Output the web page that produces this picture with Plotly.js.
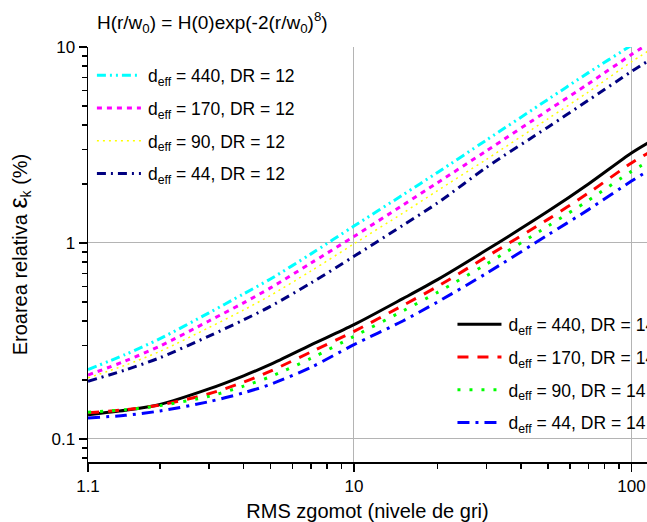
<!DOCTYPE html>
<html>
<head>
<meta charset="utf-8">
<script src="https://cdn.plot.ly/plotly-3.0.1.min.js"></script>
<style>
  html, body { margin: 0; padding: 0; background: #fff; }
  #chart { width: 647px; height: 522px; }
</style>
</head>
<body>
<div id="chart"></div>
<script>
// RMS noise levels (grey levels) at which the relative error was evaluated
const noiseRms = [1.1, 1.5, 2, 3, 4, 5, 7, 10, 15, 20, 30, 50, 70, 100, 115];

// Relative error (%) for dynamic range DR = 12
const err440dr12 = [0.226, 0.27, 0.325, 0.44, 0.55, 0.655, 0.88, 1.22, 1.76, 2.29, 3.35, 5.4, 7.4, 10.2, 11.6];
const err170dr12 = [0.212, 0.25, 0.298, 0.40, 0.495, 0.59, 0.79, 1.08, 1.56, 2.03, 2.95, 4.75, 6.5, 9.15, 10.4];
const err90dr12  = [0.205, 0.238, 0.28, 0.37, 0.455, 0.54, 0.72, 0.99, 1.42, 1.85, 2.67, 4.3, 5.9, 8.4, 9.55];
const err44dr12  = [0.197, 0.225, 0.26, 0.335, 0.405, 0.475, 0.625, 0.855, 1.23, 1.6, 2.43, 3.9, 5.35, 7.5, 8.5];

// Relative error (%) for dynamic range DR = 14
const err440dr14 = [0.133, 0.140, 0.150, 0.180, 0.210, 0.240, 0.302, 0.383, 0.52, 0.65, 0.92, 1.45, 2.0, 2.88, 3.25];
const err170dr14 = [0.136, 0.141, 0.149, 0.170, 0.195, 0.222, 0.278, 0.354, 0.48, 0.60, 0.85, 1.32, 1.80, 2.56, 2.88];
const err90dr14  = [0.137, 0.141, 0.148, 0.165, 0.186, 0.208, 0.258, 0.334, 0.45, 0.56, 0.78, 1.22, 1.65, 2.32, 2.60];
const err44dr14  = [0.128, 0.132, 0.139, 0.155, 0.172, 0.190, 0.232, 0.303, 0.40, 0.50, 0.70, 1.10, 1.48, 2.07, 2.34];

// Axis ticks
const xTickVals = [1.1, 10, 100];
const xTickText = ['1.1', '10', '100'];
const xMinorVals = [2, 3, 4, 5, 6, 7, 8, 9, 20, 30, 40, 50, 60, 70, 80, 90];
const yTickVals = [0.1, 1, 10];
const yTickText = ['0.1', '1', '10'];
const yMinorVals = [0.08, 0.09, 0.2, 0.3, 0.4, 0.5, 0.6, 0.7, 0.8, 0.9, 2, 3, 4, 5, 6, 7, 8, 9];

const FONT = 'Arial, "Liberation Sans", sans-serif';

function series(y, name, color, dash, width, legendId, group) {
  return {
    x: noiseRms, y: y, name: name,
    type: 'scatter', mode: 'lines',
    line: { color: color, dash: dash, width: width, shape: 'spline', smoothing: 0.8 },
    legend: legendId, legendgroup: group,
    hoverinfo: 'skip'
  };
}

const traces = [
  series(err440dr12, 'd<sub>eff</sub> = 440, DR = 12', '#00ffff', '9px,4px,2px,4px,2px,4px', 3, 'legend', 'a1'),
  series(err170dr12, 'd<sub>eff</sub> = 170, DR = 12', '#ff00ff', '5px,5px', 3, 'legend', 'a2'),
  series(err90dr12,  'd<sub>eff</sub> = 90, DR = 12',  '#ffff00', '2px,4px', 1.5, 'legend', 'a3'),
  series(err44dr12,  'd<sub>eff</sub> = 44, DR = 12',  '#000080', '9px,5px,2px,5px', 3, 'legend', 'a4'),
  series(err440dr14, 'd<sub>eff</sub> = 440, DR = 14', '#000000', 'solid', 3, 'legend2', 'b1'),
  series(err170dr14, 'd<sub>eff</sub> = 170, DR = 14', '#ff0000', '11px,9px', 3, 'legend2', 'b2'),
  series(err90dr14,  'd<sub>eff</sub> = 90, DR = 14',  '#00ff00', '3px,9px', 3, 'legend2', 'b3'),
  series(err44dr14,  'd<sub>eff</sub> = 44, DR = 14',  '#0000ff', '12px,6px,3px,6px', 3, 'legend2', 'b4')
];

const xRange = [Math.log10(1.1), 2.056];

const legendStyle = {
  xanchor: 'left', yanchor: 'top',
  xref: 'paper', yref: 'paper',
  bgcolor: 'rgba(0,0,0,0)', borderwidth: 0,
  font: { family: FONT, size: 17.5, color: '#000' },
  tracegroupgap: 7, itemwidth: 46,
  traceorder: 'grouped'
};

const layout = {
  width: 647, height: 522,
  margin: { l: 88, r: 0, t: 47, b: 60, autoexpand: false },
  paper_bgcolor: '#ffffff', plot_bgcolor: '#ffffff',
  font: { family: FONT, color: '#000000', size: 17 },
  showlegend: true,
  title: {
    text: 'H(r/w<sub>0</sub>) = H(0)exp(-2(r/w<sub>0</sub>)<sup>8</sup>)',
    font: { family: FONT, size: 19, color: '#000000' },
    x: 0.016, xanchor: 'left', xref: 'paper',
    y: 0.957, yanchor: 'middle', automargin: false
  },
  xaxis: {
    type: 'log', range: xRange, automargin: false,
    tickvals: xTickVals, ticktext: xTickText,
    ticks: 'outside', ticklen: 8, tickwidth: 1.5, tickcolor: '#000',
    minor: { tickvals: xMinorVals, ticks: 'outside', ticklen: 5, tickwidth: 1.5, tickcolor: '#000', showgrid: false },
    showline: true, linecolor: '#000', linewidth: 1.5,
    showgrid: true, gridcolor: '#b4b4b4', gridwidth: 1,
    zeroline: false,
    tickfont: { family: FONT, size: 17, color: '#000' },
    title: { text: 'RMS zgomot (nivele de gri)', font: { family: FONT, size: 20, color: '#000' }, standoff: 14 }
  },
  xaxis2: {
    type: 'log', range: xRange, overlaying: 'x', side: 'top', anchor: 'y', automargin: false,
    tickvals: xTickVals, showticklabels: false,
    ticks: 'inside', ticklen: 7, tickwidth: 1.5, tickcolor: '#000',
    minor: { tickvals: xMinorVals, ticks: 'inside', ticklen: 4, tickwidth: 1.5, tickcolor: '#000', showgrid: false },
    showline: true, linecolor: '#000', linewidth: 2,
    showgrid: false, zeroline: false
  },
  yaxis: {
    type: 'log', range: [Math.log10(0.0763), 1], automargin: false,
    tickvals: yTickVals, ticktext: yTickText,
    ticks: 'outside', ticklen: 8, tickwidth: 1.5, tickcolor: '#000',
    minor: { tickvals: yMinorVals, ticks: 'outside', ticklen: 5, tickwidth: 1.5, tickcolor: '#000', showgrid: false },
    showline: true, linecolor: '#000', linewidth: 1.5,
    showgrid: true, gridcolor: '#b4b4b4', gridwidth: 1,
    zeroline: false,
    tickfont: { family: FONT, size: 17, color: '#000' },
    title: {
      text: 'Eroarea relativa <span style="font-size:25px">ε</span><sub>k</sub> (%)',
      font: { family: FONT, size: 20, color: '#000' }, standoff: 18
    }
  },
  legend: Object.assign({}, legendStyle, { x: 0.007, y: 0.975 }),
  legend2: Object.assign({}, legendStyle, { x: 0.652, y: 0.375 })
};

// stretch the legend line samples so each swatch fills its item slot
function stretchLegendLines(gd) {
  gd.querySelectorAll('g.legendlines path').forEach(function (p) {
    p.setAttribute('d', 'M5,0h44');
  });
}

Plotly.newPlot('chart', traces, layout, { displayModeBar: false, staticPlot: true }).then(function (gd) {
  stretchLegendLines(gd);
  gd.on('plotly_afterplot', function () { stretchLegendLines(gd); });
  setTimeout(function () { stretchLegendLines(gd); }, 50);
});
</script>
</body>
</html>
